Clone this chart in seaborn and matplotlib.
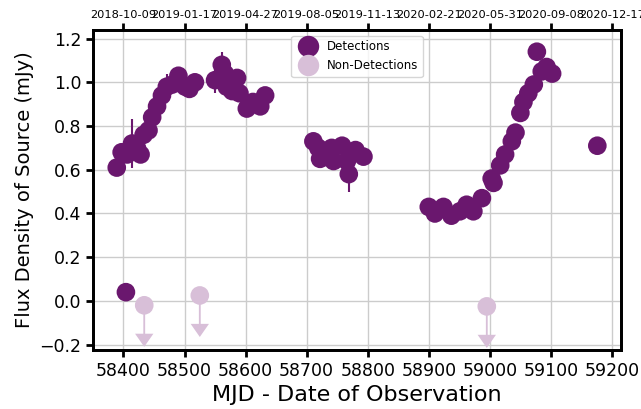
import pandas as pd
import matplotlib
matplotlib.use('Agg')
import matplotlib.pyplot as plt
import seaborn as sns

# Detections (MJD, flux in mJy, error)
det_mjd = [58389, 58397, 58404, 58406, 58414, 58422, 58428, 58433, 58441, 58447,
           58455, 58463, 58471, 58480, 58490, 58501, 58508, 58517,
           58550, 58561, 58566, 58569, 58578, 58586, 58590, 58602, 58612, 58624, 58632,
           58711, 58719, 58722, 58741, 58744, 58758, 58766, 58769, 58780, 58793,
           58900, 58910, 58924, 58937, 58951, 58962, 58973, 58987, 59003, 59006,
           59017, 59025, 59036, 59042, 59050, 59055, 59063, 59072, 59077, 59085,
           59093, 59102, 59176]
det_flux = [0.61, 0.68, 0.04, 0.67, 0.72, 0.70, 0.67, 0.76, 0.78, 0.84,
            0.89, 0.94, 0.98, 0.99, 1.03, 0.98, 0.97, 1.00,
            1.01, 1.08, 1.04, 0.98, 0.96, 1.02, 0.95, 0.88, 0.91, 0.89, 0.94,
            0.73, 0.70, 0.65, 0.70, 0.64, 0.71, 0.64, 0.58, 0.69, 0.66,
            0.43, 0.40, 0.43, 0.39, 0.41, 0.44, 0.41, 0.47, 0.56, 0.54,
            0.62, 0.67, 0.73, 0.77, 0.86, 0.91, 0.95, 0.99, 1.14, 1.05,
            1.07, 1.04, 0.71]
det_err = [0.03, 0.03, 0.02, 0.03, 0.11, 0.03, 0.03, 0.03, 0.03, 0.03,
           0.03, 0.03, 0.06, 0.03, 0.03, 0.03, 0.03, 0.03,
           0.06, 0.06, 0.03, 0.03, 0.03, 0.03, 0.03, 0.03, 0.03, 0.03, 0.03,
           0.03, 0.03, 0.03, 0.03, 0.03, 0.03, 0.03, 0.08, 0.03, 0.03,
           0.02, 0.02, 0.02, 0.02, 0.02, 0.02, 0.02, 0.02, 0.02, 0.02,
           0.02, 0.02, 0.02, 0.02, 0.02, 0.02, 0.02, 0.02, 0.02, 0.02,
           0.02, 0.02, 0.02]

# Non-detections (upper limits)
nondet_mjd = [58434, 58525, 58995]
nondet_flux = [-0.02, 0.025, -0.025]

# Top axis tick labels (dates at the MJD ticks)
mjd_ticks = [58400, 58500, 58600, 58700, 58800, 58900, 59000, 59100, 59200]
date_labels = ['2018-10-09', '2019-01-17', '2019-04-27', '2019-08-05', '2019-11-13',
               '2020-02-21', '2020-05-31', '2020-09-08', '2020-12-17']

det_color = '#6a176e'
nondet_color = '#d8bfd8'

df = pd.concat([
    pd.DataFrame({'MJD': det_mjd, 'Flux': det_flux, 'Type': 'Detections'}),
    pd.DataFrame({'MJD': nondet_mjd, 'Flux': nondet_flux, 'Type': 'Non-Detections'}),
], ignore_index=True)

sns.set_style('whitegrid', {'grid.color': '#cccccc', 'axes.edgecolor': 'black'})
plt.rcParams['font.family'] = ['DejaVu Sans']
plt.rcParams['text.color'] = 'black'
plt.rcParams['axes.labelcolor'] = 'black'

fig = plt.figure(figsize=(6.41, 4.09), dpi=100)
ax = fig.add_axes([0.145, 0.144, 0.824, 0.783])

# upper-limit arrows for non-detections
for x, y in zip(nondet_mjd, nondet_flux):
    ax.arrow(x, y, 0, -0.13, width=3, head_width=30, head_length=0.06,
             length_includes_head=False, color=nondet_color, lw=0, zorder=2)

ax.errorbar(det_mjd, det_flux, yerr=det_err, fmt='none', ecolor=det_color,
            elinewidth=1.5, zorder=2)

sns.scatterplot(data=df, x='MJD', y='Flux', hue='Type',
                palette={'Detections': det_color, 'Non-Detections': nondet_color},
                s=180, linewidth=0, alpha=1, ax=ax, zorder=3)

sns.move_legend(ax, 'upper center', title=None, fontsize=8.5, markerscale=1.15,
                frameon=True, borderpad=0.4, handletextpad=0.6)

ax.set_xlim(58350, 59215)
ax.set_ylim(-0.225, 1.24)
ax.set_xticks(mjd_ticks)
ax.set_yticks([-0.2, 0.0, 0.2, 0.4, 0.6, 0.8, 1.0, 1.2])
ax.set_xlabel('MJD - Date of Observation', fontsize=16)
ax.set_ylabel('Flux Density of Source (mJy)', fontsize=14)
ax.tick_params(axis='both', labelsize=12.5, length=5, width=2, direction='out',
               colors='black', bottom=True, left=True)
ax.grid(True, color='#cccccc', linewidth=1)
for sp in ax.spines.values():
    sp.set_linewidth(2)
    sp.set_color('black')

top = ax.twiny()
top.set_xlim(ax.get_xlim())
top.set_xticks(mjd_ticks)
top.set_xticklabels(date_labels, fontsize=8.2)
top.tick_params(axis='x', length=5, width=2, direction='out', top=True, pad=2,
                colors='black')
top.grid(False)
for sp in top.spines.values():
    sp.set_linewidth(2)
    sp.set_color('black')

fig.savefig('out.png', dpi=100)
